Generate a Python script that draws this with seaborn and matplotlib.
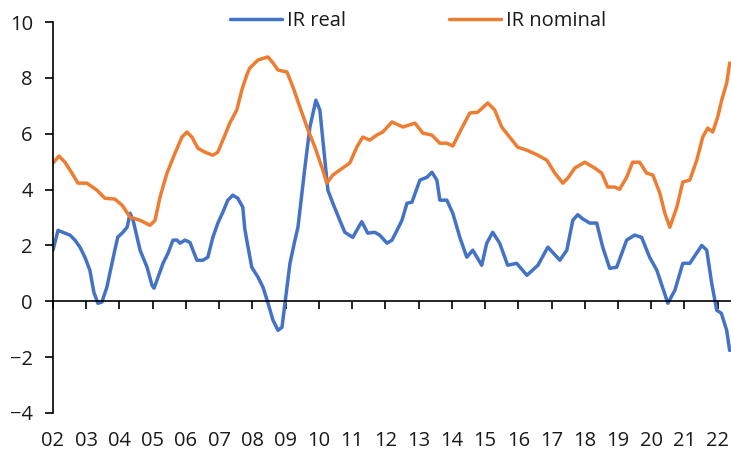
import pandas as pd
import matplotlib.pyplot as plt
import seaborn as sns

# IR real (blue)
real_year = [2002.00, 2002.15, 2002.36, 2002.51, 2002.66, 2002.81, 2002.96, 2003.11, 2003.23, 2003.35,
             2003.47, 2003.62, 2003.71, 2003.86, 2003.95, 2004.08, 2004.23, 2004.32, 2004.41, 2004.62,
             2004.83, 2004.98, 2005.04, 2005.16, 2005.31, 2005.46, 2005.61, 2005.73, 2005.82, 2005.97,
             2006.12, 2006.33, 2006.51, 2006.66, 2006.81, 2006.96, 2007.11, 2007.26, 2007.41, 2007.56,
             2007.71, 2007.77, 2007.83, 2007.98, 2008.17, 2008.32, 2008.47, 2008.62, 2008.77, 2008.89,
             2008.98, 2009.13, 2009.28, 2009.37, 2009.58, 2009.73, 2009.91, 2010.03, 2010.12, 2010.27,
             2010.42, 2010.63, 2010.78, 2011.02, 2011.14, 2011.29, 2011.47, 2011.68, 2011.83, 2012.05,
             2012.20, 2012.35, 2012.50, 2012.65, 2012.80, 2013.04, 2013.25, 2013.40, 2013.55, 2013.64,
             2013.85, 2014.03, 2014.18, 2014.24, 2014.45, 2014.63, 2014.90, 2015.05, 2015.23, 2015.44,
             2015.68, 2015.95, 2016.26, 2016.59, 2016.89, 2017.25, 2017.46, 2017.64, 2017.79, 2017.94,
             2018.15, 2018.36, 2018.54, 2018.75, 2018.96, 2019.26, 2019.50, 2019.71, 2019.95, 2020.17,
             2020.50, 2020.71, 2020.95, 2021.16, 2021.52, 2021.67, 2021.82, 2021.97, 2022.11, 2022.27,
             2022.36]
real_val = [1.83, 2.54, 2.44, 2.37, 2.19, 1.94, 1.58, 1.11, 0.32, -0.07,
            -0.03, 0.50, 1.00, 1.83, 2.30, 2.44, 2.65, 3.15, 2.90, 1.83,
            1.22, 0.57, 0.47, 0.86, 1.36, 1.72, 2.19, 2.19, 2.08, 2.19,
            2.11, 1.47, 1.47, 1.58, 2.29, 2.80, 3.19, 3.62, 3.80, 3.69,
            3.37, 2.60, 2.19, 1.22, 0.86, 0.50, -0.07, -0.68, -1.04, -0.93,
            -0.07, 1.36, 2.19, 2.65, 4.80, 6.24, 7.20, 6.85, 5.77, 3.98,
            3.51, 2.90, 2.47, 2.29, 2.54, 2.85, 2.44, 2.47, 2.37, 2.08,
            2.19, 2.54, 2.90, 3.51, 3.55, 4.34, 4.44, 4.62, 4.34, 3.62,
            3.62, 3.15, 2.54, 2.29, 1.58, 1.83, 1.29, 2.08, 2.47, 2.08,
            1.29, 1.36, 0.93, 1.29, 1.94, 1.47, 1.83, 2.90, 3.10, 2.95,
            2.80, 2.80, 1.94, 1.18, 1.22, 2.19, 2.37, 2.29, 1.58, 1.11,
            -0.07, 0.39, 1.36, 1.36, 2.00, 1.83, 0.64, -0.32, -0.43, -1.04,
            -1.76]

# IR nominal (orange)
nom_year = [2002.00, 2002.18, 2002.36, 2002.57, 2002.75, 2003.02, 2003.32, 2003.56, 2003.86, 2004.08,
            2004.32, 2004.62, 2004.92, 2005.07, 2005.22, 2005.43, 2005.67, 2005.88, 2006.03, 2006.18,
            2006.36, 2006.57, 2006.81, 2006.96, 2007.11, 2007.32, 2007.53, 2007.68, 2007.83, 2007.92,
            2008.17, 2008.47, 2008.62, 2008.77, 2009.04, 2009.22, 2009.43, 2009.64, 2009.88, 2010.09,
            2010.24, 2010.42, 2010.63, 2010.93, 2011.14, 2011.32, 2011.53, 2011.74, 2011.92, 2012.20,
            2012.53, 2012.89, 2013.13, 2013.40, 2013.64, 2013.85, 2014.03, 2014.30, 2014.54, 2014.78,
            2015.08, 2015.29, 2015.50, 2015.74, 2015.98, 2016.26, 2016.59, 2016.86, 2017.10, 2017.34,
            2017.49, 2017.70, 2018.00, 2018.30, 2018.51, 2018.69, 2018.90, 2019.05, 2019.26, 2019.44,
            2019.65, 2019.86, 2020.05, 2020.26, 2020.41, 2020.56, 2020.77, 2020.95, 2021.16, 2021.37,
            2021.55, 2021.70, 2021.85, 2022.00, 2022.12, 2022.27, 2022.36]
nom_val = [4.95, 5.20, 4.98, 4.59, 4.23, 4.23, 3.98, 3.69, 3.66, 3.44,
           3.01, 2.90, 2.72, 2.90, 3.73, 4.59, 5.30, 5.88, 6.06, 5.88,
           5.48, 5.34, 5.23, 5.34, 5.77, 6.38, 6.85, 7.56, 8.10, 8.35,
           8.64, 8.75, 8.53, 8.28, 8.21, 7.67, 6.95, 6.24, 5.52, 4.80,
           4.23, 4.52, 4.70, 4.95, 5.52, 5.88, 5.77, 5.95, 6.06, 6.42,
           6.24, 6.38, 6.02, 5.95, 5.66, 5.66, 5.56, 6.20, 6.74, 6.77,
           7.10, 6.85, 6.24, 5.88, 5.52, 5.41, 5.23, 5.05, 4.59, 4.23,
           4.41, 4.77, 4.98, 4.77, 4.59, 4.09, 4.09, 4.01, 4.44, 4.98,
           4.98, 4.59, 4.52, 3.87, 3.15, 2.65, 3.37, 4.27, 4.34, 5.05,
           5.88, 6.20, 6.06, 6.60, 7.20, 7.81, 8.53]

series_names = ["IR real", "IR nominal"]
tick_years = list(range(2002, 2023))
tick_labels = [f"{y % 100:02d}" for y in tick_years]
y_ticks = [-4, -2, 0, 2, 4, 6, 8, 10]

df = pd.concat([
    pd.DataFrame({"year": real_year, "value": real_val, "series": series_names[0]}),
    pd.DataFrame({"year": nom_year, "value": nom_val, "series": series_names[1]}),
])

sns.set_style("white")
plt.rcParams["font.family"] = ["Open Sans", "DejaVu Sans"]

fig = plt.figure(figsize=(7.31, 4.5), dpi=100)
ax = fig.add_axes([53 / 731, 1 - 413 / 450, 1 - 53 / 731, (413 - 22) / 450])

sns.lineplot(data=df, x="year", y="value", hue="series", hue_order=series_names,
             palette=["#4472C4", "#ED7D31"], linewidth=2.5, sort=False,
             estimator=None, legend=False, ax=ax)
for line in ax.lines:
    line.set_solid_joinstyle("round")
    line.set_solid_capstyle("round")

ax.set_xlim(2002, 2022.4)
ax.set_ylim(-4, 10)
ax.set_xlabel("")
ax.set_ylabel("")
ax.set_xticks(tick_years)
ax.set_xticklabels(tick_labels)
ax.set_yticks(y_ticks)

for s in ["top", "right"]:
    ax.spines[s].set_visible(False)
ax.spines["bottom"].set_position(("data", 0))
ax.spines["bottom"].set_color("black")
ax.spines["left"].set_color("black")
ax.spines["bottom"].set_linewidth(1.2)
ax.spines["left"].set_linewidth(1.2)

ax.tick_params(axis="x", direction="out", length=5.5, width=1.2, color="black",
               labelsize=14.5, labelcolor="#1a1a1a", pad=88, bottom=True)
ax.tick_params(axis="y", direction="out", length=5.5, width=1.2, color="black",
               labelsize=14.5, labelcolor="#1a1a1a", pad=9, left=True)

fig.legend(ax.lines[:2], series_names, loc="center", bbox_to_anchor=(0.572, 0.953),
           ncol=2, frameon=False, fontsize=14.5, handlelength=2.6,
           handletextpad=0.25, columnspacing=5.1, labelcolor="#1a1a1a")

fig.savefig("out.png", dpi=100)
